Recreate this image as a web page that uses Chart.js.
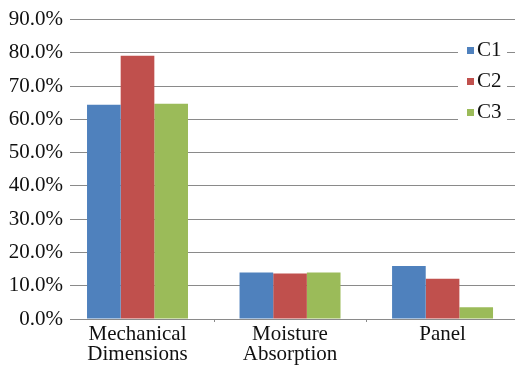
<!DOCTYPE html>
<html>
<head>
<meta charset="utf-8">
<script src="https://cdn.jsdelivr.net/npm/chart.js@4"></script>
<style>
  html, body { margin: 0; padding: 0; background: #fff; overflow: hidden; }
  #wrap { width: 515px; height: 366px; }
</style>
</head>
<body>
<div id="wrap"><canvas id="chart" width="515" height="366"></canvas></div>
<script>
// Categories (each entry is the lines of its axis label)
const categories = [
  ['Mechanical', 'Dimensions'],
  ['Moisture', 'Absorption'],
  ['Panel']
];

// Series values, as fractions (0.10 = 10%)
const seriesNames = ['C1', 'C2', 'C3'];
const c1Values = [0.644, 0.140, 0.159];
const c2Values = [0.791, 0.137, 0.121];
const c3Values = [0.647, 0.140, 0.035];

// Value axis ticks
const yTicks = [0, 0.1, 0.2, 0.3, 0.4, 0.5, 0.6, 0.7, 0.8, 0.9];

const seriesColors = ['#4F81BD', '#C0504D', '#9BBB59'];
const FONT = '"Liberation Serif"';
const FONT_SIZE = 21;

const toPoints = vals => vals.map((v, i) => ({ x: i, y: v }));

// Small tick marks between categories on the horizontal axis
const categoryDividers = {
  id: 'categoryDividers',
  afterDraw(chart) {
    const ctx = chart.ctx;
    const xs = chart.scales.x;
    const bottom = chart.chartArea.bottom;
    ctx.save();
    ctx.strokeStyle = '#8a8a8a';
    ctx.lineWidth = 1;
    for (let i = 0; i < categories.length - 1; i++) {
      const x = Math.round(xs.getPixelForValue(i + 0.5)) + 0.5;
      ctx.beginPath();
      ctx.moveTo(x, bottom);
      ctx.lineTo(x, bottom + 3);
      ctx.stroke();
    }
    ctx.restore();
  }
};

// Legend drawn as a white box inside the plot on the right
const insideLegend = {
  id: 'insideLegend',
  afterDraw(chart) {
    const ctx = chart.ctx;
    ctx.save();
    ctx.fillStyle = '#ffffff';
    ctx.fillRect(458, 36, 49, 88);
    ctx.font = FONT_SIZE + 'px ' + FONT;
    ctx.textBaseline = 'alphabetic';
    ctx.textAlign = 'left';
    chart.data.datasets.forEach((ds, i) => {
      const cy = 49 + i * 31;
      ctx.fillStyle = ds.backgroundColor;
      ctx.fillRect(467, cy - 2, 7, 7);
      ctx.fillStyle = '#111';
      ctx.fillText(ds.label, 477, cy + 7);
    });
    ctx.restore();
  }
};

Chart.defaults.font.family = FONT;

new Chart(document.getElementById('chart'), {
  type: 'bar',
  data: {
    datasets: [
      { label: seriesNames[0], data: toPoints(c1Values), backgroundColor: seriesColors[0] },
      { label: seriesNames[1], data: toPoints(c2Values), backgroundColor: seriesColors[1] },
      { label: seriesNames[2], data: toPoints(c3Values), backgroundColor: seriesColors[2] }
    ]
  },
  options: {
    responsive: false,
    animation: false,
    devicePixelRatio: 1,
    categoryPercentage: 0.662,
    barPercentage: 1.0,
    layout: { padding: { top: 17, right: 0, bottom: 0, left: 0 } },
    plugins: {
      legend: { display: false },
      tooltip: { enabled: false }
    },
    scales: {
      x: {
        type: 'linear',
        offset: false,
        min: -0.4426,
        max: 2.475,
        grid: { display: false },
        border: { display: false },
        afterBuildTicks: s => { s.ticks = categories.map((_, i) => ({ value: i })); },
        afterFit: s => { s.height = 47; },
        ticks: {
          autoSkip: false,
          maxRotation: 0,
          padding: -2,
          color: '#111',
          font: { family: FONT, size: FONT_SIZE, lineHeight: 0.95 },
          callback: v => categories[Math.round(v)]
        }
      },
      y: {
        min: 0,
        max: 0.9,
        grid: { color: '#8a8a8a', lineWidth: 1, drawTicks: false },
        border: { display: false },
        afterBuildTicks: s => { s.ticks = yTicks.map(v => ({ value: v })); },
        afterFit: s => { s.width = 70; },
        ticks: {
          padding: 7,
          color: '#111',
          font: { family: FONT, size: FONT_SIZE },
          callback: v => (v * 100).toFixed(1) + '%'
        }
      }
    }
  },
  plugins: [categoryDividers, insideLegend]
});
</script>
</body>
</html>
